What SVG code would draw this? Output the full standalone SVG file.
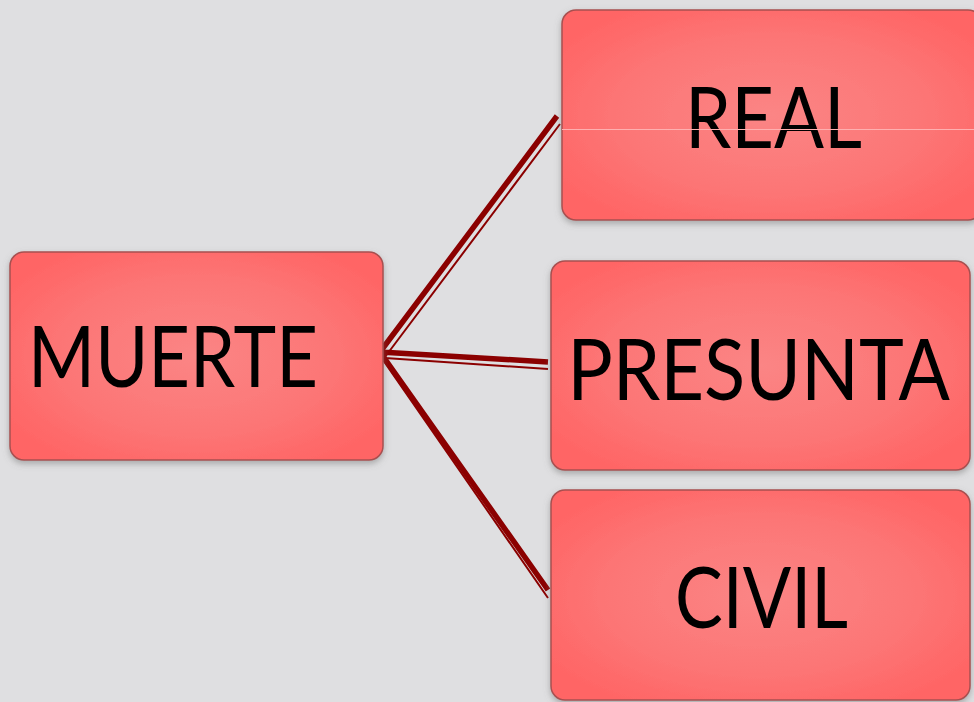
<svg xmlns="http://www.w3.org/2000/svg" width="974" height="702" viewBox="0 0 974 702">
<style>
.box{fill:url(#g);stroke:#a85050;stroke-width:1.5}
.lbl{font-family:Lato,"Open Sans","Liberation Sans",sans-serif;font-size:86px;fill:#000;text-anchor:middle}
.thick{stroke:#8b0000;stroke-width:5.5;fill:none}
.thin{stroke:#8b0000;stroke-width:2;fill:none}
</style>
<defs>
<radialGradient id="g" cx="0.5" cy="0.5" r="0.6">
<stop offset="0" stop-color="#fb8585"/>
<stop offset="0.6" stop-color="#fc7676"/>
<stop offset="1" stop-color="#ff6565"/>
</radialGradient>
<filter id="sh" x="-10%" y="-10%" width="120%" height="125%">
<feDropShadow dx="0" dy="3" stdDeviation="3" flood-color="#707070" flood-opacity="0.5"/>
</filter>
</defs>
<rect width="974" height="702" fill="#dfdfe1"/>
<g id="connectors">
<path class="thick" d="M380 352 L557 116 M380 352 L548 362 M380 352 L548 590"/>
<path class="thin" d="M385 357 L560 124 M385 358 L548 369 M383 360 L548 598"/>
</g>
<g id="muerte" filter="url(#sh)">
<rect class="box" x="10" y="252" width="373" height="208" rx="14"/>
<text class="lbl" transform="translate(173 387) scale(0.86 1)" textLength="337" lengthAdjust="spacingAndGlyphs">MUERTE</text>
</g>
<g id="real" filter="url(#sh)">
<rect class="box" x="562" y="10" width="420" height="210" rx="14"/>
<text class="lbl" transform="translate(773.5 148) scale(0.885 1)" textLength="200" lengthAdjust="spacingAndGlyphs">REAL</text>
<line x1="562" y1="129.5" x2="974" y2="129.5" stroke="#ffb0b0" stroke-width="1"/>
</g>
<g id="presunta" filter="url(#sh)">
<rect class="box" x="551" y="261" width="419" height="209" rx="14"/>
<text class="lbl" transform="translate(758.5 400) scale(0.89 1)" textLength="430" lengthAdjust="spacingAndGlyphs">PRESUNTA</text>
</g>
<g id="civil" filter="url(#sh)">
<rect class="box" x="551" y="490" width="419" height="210" rx="14"/>
<text class="lbl" transform="translate(761.5 628) scale(0.856 1)" textLength="202" lengthAdjust="spacingAndGlyphs">CIVIL</text>
</g>
</svg>
